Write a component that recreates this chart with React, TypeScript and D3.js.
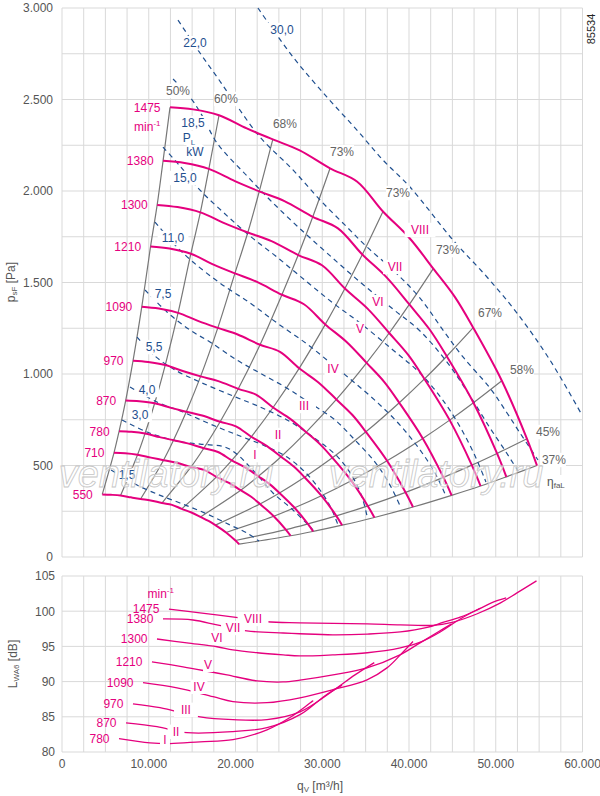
import * as d3 from 'd3';

const FONT = '"Liberation Sans", Arial, Helvetica, sans-serif';
const MAGENTA = '#e5007e';
const BLUE = '#1f4f8f';
const GRAY = '#777';
const GRID = '#d9d9d9';

// speeds (min-1) and roman numbers
const speeds = [1475, 1380, 1300, 1210, 1090, 970, 870, 780, 710, 550];
const romans = ['VIII', 'VII', 'VI', 'V', 'IV', 'III', 'II', 'I'];

// fan curves [q m3/h, psF Pa]
const fan1475 = [[12450,2457],[15100,2446],[18100,2414],[21300,2342],[24300,2282],[27400,2222],[30900,2124],[34000,2052],[37000,1888],[40000,1746],[42800,1576],[45300,1420],[47400,1253],[50700,963],[53600,646],[54750,500]];
const fan1380 = [[11650,2165],[14130,2153],[16930,2121],[19930,2054],[22740,1998],[25640,1945],[28910,1859],[31810,1796],[34620,1653],[37420,1528],[40040,1380],[42380,1243],[44350,1097],[47430,843],[50150,566],[51220,438]];
const fan1300 = [[10970,1924],[13310,1912],[15950,1883],[18770,1823],[21420,1773],[24150,1726],[27230,1650],[29970,1594],[32610,1467],[35250,1356],[37720,1224],[39930,1103],[41780,973],[44690,748],[47240,502],[48250,388]];
const fan1210 = [[10210,1697],[12390,1686],[14850,1657],[17470,1598],[19930,1550],[22480,1503],[25350,1433],[27890,1381],[30350,1271],[32810,1175],[35110,1061],[37160,956],[38880,843],[41590,648],[43970,435],[44910,337]];
const fan1090 = [[9200,1368],[11160,1358],[13380,1334],[15740,1289],[17960,1252],[20250,1216],[22830,1160],[25130,1121],[27340,1031],[29560,954],[31630,861],[33480,776],[35030,684],[37470,526],[39610,353],[40460,273]];
const fan970 = [[8190,1073],[9930,1066],[11900,1049],[14010,1015],[15980,987],[18020,961],[20320,919],[22360,887],[24330,817],[26310,755],[28150,682],[29790,614],[31170,542],[33340,417],[35250,279],[36010,216]];
const fan870 = [[7340,855],[8910,851],[10680,840],[12560,815],[14330,794],[16160,773],[18230,739],[20050,714],[21820,657],[23590,607],[25250,548],[26720,494],[27960,436],[29900,335],[31620,225],[32290,174]];
const fan780 = [[6580,687],[7990,684],[9570,675],[11260,655],[12850,638],[14490,621],[16340,594],[17980,574],[19570,528],[21150,488],[22630,441],[23960,397],[25070,350],[26810,269],[28340,181],[28950,140]];
const fan710 = [[5990,569],[7270,567],[8710,559],[10250,543],[11700,529],[13190,515],[14870,492],[16370,476],[17810,438],[19250,405],[20600,365],[21810,329],[22820,290],[24410,223],[25800,150],[26350,116]];
const fan550 = [[4640,342],[5630,340],[6750,336],[7940,326],[9060,317],[10220,309],[11520,295],[12680,285],[13800,263],[14920,243],[15960,219],[16890,197],[17680,174],[18910,134],[19990,90],[20420,70]];

// efficiency lines run through these curve points
const effIndex = [0, 2, 4, 6, 8, 10, 12, 13, 14, 15];
const effLabels = ['50%', '60%', '68%', '73%', '73%', '73%', '67%', '58%', '45%', '37%'];
const effLabelPos = [[13370,2546],[18900,2503],[25700,2366],[32280,2213],[38730,1989],[44490,1677],[49340,1333],[53020,1022],[56020,683],[56710,530]];

// power lines P_L [kW]
const pw30 = [[22590,3000],[26630,2732],[30550,2513],[34000,2333],[37000,2169],[40110,2022],[45070,1732],[48990,1530],[52450,1333],[56250,1076],[59940,776]];
const pw22 = [[13370,2934],[15910,2754],[17870,2623],[19710,2497],[22820,2295],[26630,2115],[29740,1951],[32850,1803],[35160,1694],[38150,1568],[41270,1415],[43920,1240],[46220,1093],[49340,923],[51300,787],[52790,678],[54870,530]];
const pw18_5 = [[12800,2612],[14760,2513],[16250,2404],[17870,2262],[21330,2082],[23980,1951],[27090,1809],[30550,1661],[34350,1503],[38150,1355],[41270,1235],[44380,1065],[47030,880],[49340,705],[51180,574],[52560,470]];
const pw15 = [[11640,2240],[13600,2136],[15910,2005],[18560,1885],[21670,1754],[24780,1639],[28240,1503],[31240,1388],[34350,1279],[38150,1131],[41270,1005],[44150,841],[46220,683],[47720,541],[48870,410]];
const pw11 = [[10720,1830],[13030,1705],[15100,1612],[18210,1497],[21670,1388],[24780,1279],[28240,1164],[31240,1049],[33770,951],[36430,841],[38960,721],[41270,585],[43000,459],[44260,333]];
const pw7_5 = [[9570,1459],[12100,1339],[14760,1240],[17060,1175],[20170,1076],[22820,1005],[25710,929],[28590,841],[31470,749],[33770,639],[36080,519],[37810,393],[39080,268]];
const pw5_5 = [[8650,1202],[10720,1098],[13030,1022],[15910,956],[19710,880],[22820,820],[25940,749],[28930,656],[31810,546],[33430,443],[34580,328],[35160,224]];
const pw4 = [[7840,929],[10950,847],[13950,792],[17060,727],[20520,661],[23400,607],[25940,546],[28010,464],[29740,366],[31010,268],[31820,175]];
const pw3 = [[6920,749],[9800,683],[13260,634],[15910,617],[18790,601],[20290,557],[21440,503],[22820,432],[24320,350],[26630,257],[28930,148]];
const pw1_5 = [[5650,475],[7260,432],[8650,393],[10950,344],[13600,295],[16480,240],[19370,175],[21330,131],[22710,87]];
const powerLabels = ['30,0', '22,0', '18,5', '15,0', '11,0', '7,5', '5,5', '4,0', '3,0', '1,5'];
const powerLabelPos = [[25360,2880],[15330,2808],[15100,2371],[14180,2071],[12800,1743],[11640,1437],[10610,1147],[9800,912],[8990,776],[7490,448]];

// sound power LWA6 [dB]
const snd1475 = [[12330,100.3],[15900,99.75],[20500,99.05],[23600,98.5],[27400,98.35],[35200,98.2],[39000,98.05],[42800,98.0],[45100,98.45],[47800,99.6],[50500,101.15],[52450,102.6],[54700,104.3]];
const snd1380 = [[11640,98.9],[15100,98.75],[17870,98.05],[21300,97.2],[25500,96.9],[27400,96.8],[31200,96.65],[35200,96.75],[39000,97.05],[42100,97.7],[43900,98.4],[45900,99.15],[47800,100.15],[49700,101.3],[51200,101.9]];
const snd1300 = [[10950,96.05],[14400,95.5],[17870,94.95],[19700,94.5],[22500,94.1],[25500,93.8],[27400,93.65],[31200,93.8],[35200,94.1],[39000,94.8],[41300,95.6],[43600,97.05],[45900,98.9],[48250,100.45]];
const snd1210 = [[10370,92.8],[13950,92.1],[17060,91.4],[19020,90.95],[22480,90.1],[25480,89.95],[27430,90.2],[31240,90.95],[35160,91.95],[38960,93.8],[41270,95.5],[43340,97.05],[44910,98.2]];
const snd1090 = [[9340,89.85],[13260,89.1],[17410,87.85],[19710,87.15],[23630,87.0],[27430,87.7],[31240,88.85],[35160,90.25],[37460,91.95],[39080,93.9],[40460,95.7]];
const snd970 = [[8180,86.85],[11300,86.3],[15900,85.0],[19710,84.6],[23630,84.6],[27430,85.7],[31240,88.7],[33770,90.95],[36000,92.7]];
const snd870 = [[7380,84.15],[10950,83.6],[14410,82.75],[19710,82.9],[23630,83.45],[27430,85.3],[30320,88.0],[32290,89.5]];
const snd780 = [[6570,81.9],[10140,81.3],[12450,81.2],[15910,81.45],[19710,81.75],[23630,83.15],[26280,84.9],[28950,87.3]];
const soundSpeeds = [1475, 1380, 1300, 1210, 1090, 970, 870, 780];
const soundRomanPos = [[22020,98.9],[19710,97.62],[17870,96.21],[16830,92.38],[15790,89.26],[14290,85.99],[13140,82.87],[11870,81.74]];

const romanTopPos = [[41270,1787],[38390,1585],[36430,1393],[34350,1246],[31240,1027],[27900,825],[24900,667],[22250,557]];

const fanCurves = [fan1475, fan1380, fan1300, fan1210, fan1090, fan970, fan870, fan780, fan710, fan550];
const powerLines = [pw30, pw22, pw18_5, pw15, pw11, pw7_5, pw5_5, pw4, pw3, pw1_5];
const soundCurves = [snd1475, snd1380, snd1300, snd1210, snd1090, snd970, snd870, snd780];

const x = d3.scaleLinear().domain([0, 60000]).range([62, 582.5]);
const yP = d3.scaleLinear().domain([0, 3000]).range([557, 8]);
const yL = d3.scaleLinear().domain([80, 105]).range([752, 576]);

const fmt = d3.formatLocale({ decimal: ',', thousands: '.', grouping: [3], currency: ['', ''] }).format(',');

const lineP = d3.line<number[]>().x(d => x(d[0])).y(d => yP(d[1])).curve(d3.curveCatmullRom.alpha(0.5));
const lineL = d3.line<number[]>().x(d => x(d[0])).y(d => yL(d[1])).curve(d3.curveCatmullRom.alpha(0.5));

function BoxText({ cx, cy, text, color, anchor = 'middle', size = 12, bg = true }: any) {
  const w = String(text).length * size * 0.58 + 3;
  const left = anchor === 'middle' ? cx - w / 2 : anchor === 'end' ? cx - w : cx;
  return (
    <g>
      {bg && <rect x={left} y={cy - size * 0.6} width={w} height={size * 1.2} fill="#fff" />}
      <text x={cx} y={cy} dy="0.36em" textAnchor={anchor} fontSize={size} fill={color}>{text}</text>
    </g>
  );
}

export default function App() {
  const qGrid = d3.range(0, 60001, 2500);
  const pGrid = d3.range(0, 3001, 250);
  const lGrid = d3.range(80, 106, 5);
  const effLines = effIndex.map(j => fanCurves.map(c => c[j]).reverse());

  return (
    <svg width={600} height={796} style={{ position: 'absolute', left: 0, top: 0, background: '#fff' }} fontFamily={FONT}>
      <rect width={600} height={796} fill="#fff" />
      {/* grids */}
      <g stroke={GRID} strokeWidth={1}>
        {qGrid.map(q => <line key={'a' + q} x1={x(q)} x2={x(q)} y1={yP(0)} y2={yP(3000)} />)}
        {pGrid.map(p => <line key={'b' + p} x1={x(0)} x2={x(60000)} y1={yP(p)} y2={yP(p)} />)}
        {qGrid.map(q => <line key={'c' + q} x1={x(q)} x2={x(q)} y1={yL(80)} y2={yL(105)} />)}
        {lGrid.map(l => <line key={'d' + l} x1={x(0)} x2={x(60000)} y1={yL(l)} y2={yL(l)} />)}
      </g>

      {/* tick labels */}
      <g fontSize={12} fill="#555">
        {d3.range(0, 3001, 500).map(p => (
          <text key={'pt' + p} x={53} y={yP(p)} dy="0.36em" textAnchor="end">{fmt(p)}</text>
        ))}
        {lGrid.map(l => (
          <text key={'lt' + l} x={55} y={yL(l)} dy="0.36em" textAnchor="end">{l}</text>
        ))}
        {d3.range(0, 60001, 10000).map(q => (
          <text key={'qt' + q} x={x(q)} y={768} textAnchor="middle">{fmt(q)}</text>
        ))}
      </g>
      <text transform="translate(15,282) rotate(-90)" textAnchor="middle" fontSize={12} fill="#555">
        p<tspan fontSize={8} dy={2}>sF</tspan><tspan dy={-2}> [Pa]</tspan>
      </text>
      <text transform="translate(17,664) rotate(-90)" textAnchor="middle" fontSize={12} fill="#555">
        L<tspan fontSize={8} dy={2}>WA6</tspan><tspan dy={-2}> [dB]</tspan>
      </text>
      <text x={297} y={790} fontSize={12} fill="#555">
        q<tspan fontSize={8} dy={2}>V</tspan><tspan dy={-2}> [m³/h]</tspan>
      </text>
      <text transform="translate(595,29) rotate(-90)" textAnchor="middle" fontSize={11} fill="#222">85534</text>

      {/* efficiency lines */}
      <g fill="none" stroke={GRAY} strokeWidth={1.2}>
        {effLines.map((l, i) => <path key={'e' + i} d={lineP(l) || ''} />)}
      </g>
      {/* power lines */}
      <g fill="none" stroke={BLUE} strokeWidth={1.2} strokeDasharray="5,4">
        {powerLines.map((l, i) => <path key={'w' + i} d={lineP(l) || ''} />)}
      </g>
      {/* fan curves */}
      <g fill="none" stroke={MAGENTA} strokeWidth={2}>
        {fanCurves.map((c, i) => <path key={'f' + i} d={lineP(c) || ''} />)}
      </g>

      {/* labels top */}
      {effLabels.map((t, i) => (
        <BoxText key={'el' + i} cx={x(effLabelPos[i][0])} cy={yP(effLabelPos[i][1])} text={t} color="#666" />
      ))}
      <g>
        <rect x={x(56600) - 8} y={yP(410) - 7} width={24} height={14} fill="#fff" />
        <text x={x(56600) - 6} y={yP(410)} dy="0.36em" fontSize={12} fill="#555">
          η<tspan fontSize={8} dy={2}>faL</tspan>
        </text>
      </g>
      {powerLabels.map((t, i) => (
        <BoxText key={'pl' + i} cx={x(powerLabelPos[i][0])} cy={yP(powerLabelPos[i][1])} text={t} color={BLUE} />
      ))}
      <g fill={BLUE} fontSize={12}>
        <rect x={x(15100) - 9} y={yP(2290) - 7} width={18} height={14} fill="#fff" />
        <text x={x(15100) - 4} y={yP(2290)} dy="0.36em" textAnchor="middle">
          P<tspan fontSize={8} dy={3}>L</tspan>
        </text>
        <BoxText cx={x(15330)} cy={yP(2213)} text="kW" color={BLUE} />
      </g>
      {fanCurves.map((c, i) => (
        <text key={'sl' + i} x={x(c[0][0]) - 9.5} y={yP(c[0][1])} dy="0.36em" textAnchor="end" fontSize={12} fill={MAGENTA}>
          {speeds[i]}
        </text>
      ))}
      <text x={x(fan1475[0][0]) - 9.5} y={yP(fan1475[0][1]) + 24} textAnchor="end" fontSize={12} fill={MAGENTA}>
        min<tspan fontSize={8} dy={-5}>-1</tspan>
      </text>
      {romans.map((r, i) => (
        <BoxText key={'rt' + i} cx={x(romanTopPos[i][0])} cy={yP(romanTopPos[i][1])} text={r} color={MAGENTA} />
      ))}

      {/* watermark */}
      <g fontSize={38} fontStyle="italic" textAnchor="middle" fill="#fff" fillOpacity={0.5} stroke="#c6c6c6" strokeWidth={0.8}>
        <text x={166} y={487}>ventilatory.ru</text>
        <text x={436} y={487}>ventilatory.ru</text>
      </g>

      {/* sound power */}
      <g fill="none" stroke={MAGENTA} strokeWidth={1.3}>
        {soundCurves.map((c, i) => <path key={'s' + i} d={lineL(c) || ''} />)}
      </g>
      {soundCurves.map((c, i) => (
        <text key={'ss' + i} x={x(c[0][0]) - 9.5} y={yL(c[0][1])} dy="0.36em" textAnchor="end" fontSize={12} fill={MAGENTA}>
          {soundSpeeds[i]}
        </text>
      ))}
      <text x={x(snd1475[0][0]) - 9} y={yL(snd1475[0][1]) - 11} textAnchor="end" fontSize={12} fill={MAGENTA} dx={14}>
        min<tspan fontSize={8} dy={-5}>-1</tspan>
      </text>
      {romans.map((r, i) => (
        <BoxText key={'rs' + i} cx={x(soundRomanPos[i][0])} cy={yL(soundRomanPos[i][1])} text={r} color={MAGENTA} />
      ))}
    </svg>
  );
}
